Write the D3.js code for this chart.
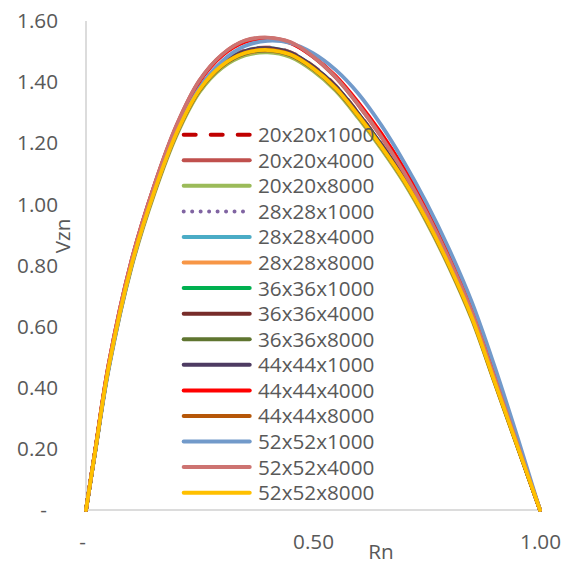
<!DOCTYPE html>
<html>
<head>
<meta charset="utf-8">
<script src="https://cdn.jsdelivr.net/npm/d3@7"></script>
<style>
  html, body { margin: 0; padding: 0; background: #ffffff; }
  svg { display: block; }
  text { font-family: "Open Sans", "Noto Sans", sans-serif; fill: #595959; }
</style>
</head>
<body>
<svg id="chart" width="570" height="565"></svg>
<script>
// Radial positions (Rn) shared by every series
const rn = [0, 0.02, 0.05, 0.10, 0.15, 0.20, 0.25, 0.30, 0.35, 0.40, 0.45,
            0.50, 0.55, 0.60, 0.65, 0.70, 0.75, 0.80, 0.85, 0.90, 0.95, 1.00];

// Normalised axial velocity Vzn for each mesh (cells x cells x steps)
const seriesNames = ["20x20x1000", "20x20x4000", "20x20x8000",
                     "28x28x1000", "28x28x4000", "28x28x8000",
                     "36x36x1000", "36x36x4000", "36x36x8000",
                     "44x44x1000", "44x44x4000", "44x44x8000",
                     "52x52x1000", "52x52x4000", "52x52x8000"];

const v20x20x1000 = [0, 0.191, 0.471, 0.805, 1.046, 1.241, 1.382, 1.463, 1.503, 1.513, 1.498, 1.453, 1.388, 1.298, 1.198, 1.088, 0.958, 0.808, 0.637, 0.426, 0.213, 0];
const v20x20x4000 = [0, 0.193, 0.478, 0.815, 1.060, 1.260, 1.405, 1.490, 1.535, 1.545, 1.530, 1.483, 1.415, 1.325, 1.222, 1.105, 0.972, 0.820, 0.647, 0.433, 0.216, 0];
const v20x20x8000 = [0, 0.188, 0.463, 0.792, 1.032, 1.227, 1.367, 1.447, 1.487, 1.497, 1.482, 1.437, 1.372, 1.282, 1.182, 1.072, 0.942, 0.793, 0.623, 0.416, 0.207, 0];
const v28x28x1000 = [0, 0.190, 0.469, 0.802, 1.043, 1.238, 1.378, 1.458, 1.498, 1.508, 1.493, 1.448, 1.383, 1.293, 1.193, 1.083, 0.953, 0.803, 0.633, 0.423, 0.211, 0];
const v28x28x4000 = [0, 0.191, 0.471, 0.805, 1.046, 1.241, 1.382, 1.462, 1.502, 1.512, 1.497, 1.452, 1.387, 1.297, 1.197, 1.087, 0.957, 0.806, 0.635, 0.425, 0.212, 0];
const v28x28x8000 = [0, 0.189, 0.466, 0.797, 1.037, 1.232, 1.372, 1.452, 1.492, 1.502, 1.487, 1.442, 1.377, 1.287, 1.187, 1.077, 0.947, 0.797, 0.627, 0.418, 0.208, 0];
const v36x36x1000 = [0, 0.190, 0.469, 0.802, 1.043, 1.238, 1.379, 1.459, 1.499, 1.509, 1.494, 1.449, 1.384, 1.294, 1.194, 1.084, 0.954, 0.804, 0.634, 0.424, 0.212, 0];
const v36x36x4000 = [0, 0.191, 0.470, 0.803, 1.044, 1.239, 1.380, 1.460, 1.501, 1.511, 1.496, 1.451, 1.386, 1.296, 1.196, 1.086, 0.956, 0.805, 0.635, 0.424, 0.212, 0];
const v36x36x8000 = [0, 0.189, 0.467, 0.798, 1.038, 1.233, 1.373, 1.453, 1.493, 1.503, 1.488, 1.443, 1.378, 1.288, 1.188, 1.078, 0.948, 0.798, 0.628, 0.419, 0.209, 0];
const v44x44x1000 = [0, 0.190, 0.469, 0.802, 1.043, 1.238, 1.379, 1.459, 1.500, 1.510, 1.495, 1.450, 1.385, 1.295, 1.195, 1.085, 0.955, 0.805, 0.634, 0.424, 0.212, 0];
const v44x44x4000 = [0, 0.193, 0.477, 0.814, 1.058, 1.257, 1.402, 1.487, 1.531, 1.542, 1.528, 1.484, 1.420, 1.333, 1.233, 1.118, 0.985, 0.833, 0.658, 0.442, 0.221, 0];
const v44x44x8000 = [0, 0.190, 0.468, 0.800, 1.040, 1.236, 1.376, 1.456, 1.496, 1.506, 1.491, 1.446, 1.381, 1.291, 1.191, 1.081, 0.951, 0.801, 0.631, 0.421, 0.211, 0];
const v52x52x1000 = [0, 0.186, 0.460, 0.796, 1.040, 1.236, 1.381, 1.469, 1.518, 1.535, 1.528, 1.495, 1.440, 1.362, 1.260, 1.140, 1.005, 0.853, 0.680, 0.470, 0.240, 0];
const v52x52x4000 = [0, 0.193, 0.478, 0.816, 1.061, 1.261, 1.406, 1.491, 1.536, 1.546, 1.531, 1.484, 1.416, 1.326, 1.223, 1.106, 0.973, 0.821, 0.648, 0.434, 0.217, 0];
const v52x52x8000 = [0, 0.190, 0.468, 0.800, 1.040, 1.235, 1.375, 1.455, 1.495, 1.505, 1.490, 1.445, 1.380, 1.290, 1.190, 1.080, 0.950, 0.800, 0.630, 0.420, 0.210, 0];

const seriesValues = [v20x20x1000, v20x20x4000, v20x20x8000,
                      v28x28x1000, v28x28x4000, v28x28x8000,
                      v36x36x1000, v36x36x4000, v36x36x8000,
                      v44x44x1000, v44x44x4000, v44x44x8000,
                      v52x52x1000, v52x52x4000, v52x52x8000];

// Axis ticks
const yTicks = [0, 0.2, 0.4, 0.6, 0.8, 1.0, 1.2, 1.4, 1.6];
const xTicks = [0, 0.5, 1.0];

// Line styles per series
const colors = ["#C00000", "#C0504D", "#9BBB59",
                "#8064A2", "#4BACC6", "#F79646",
                "#00B050", "#772C2A", "#5F7530",
                "#4D3B62", "#FF0000", "#B65708",
                "#729ACA", "#CD7371", "#FFC000"];
const dashes = [ "12,15", null, null,
                 "0.01,8.46", null, null,
                 null, null, null, null, null, null, null, null, null];

const series = seriesNames.map((name, i) => ({
  name,
  color: colors[i],
  dash: dashes[i],
  points: rn.map((r, j) => ({ x: r, y: seriesValues[i][j] }))
}));

const svg = d3.select("#chart");

const x = d3.scaleLinear().domain([0, 1]).range([86, 540]);
const y = d3.scaleLinear().domain([0, 1.6]).range([510, 21]);

const fmt = v => v === 0 ? "-" : d3.format(".2f")(v);

// Axis lines
svg.append("line")
  .attr("x1", x(0)).attr("x2", x(0))
  .attr("y1", y(1.6)).attr("y2", y(0))
  .attr("stroke", "#D0D0D0").attr("stroke-width", 1.5);
svg.append("line")
  .attr("x1", x(0)).attr("x2", x(1))
  .attr("y1", y(0)).attr("y2", y(0))
  .attr("stroke", "#D0D0D0").attr("stroke-width", 1.5);

// Y axis labels
const yAxis = svg.append("g")
  .attr("transform", `translate(${x(0)},0)`)
  .call(d3.axisLeft(y).tickValues(yTicks).tickFormat(fmt).tickSize(0).tickPadding(28));
yAxis.select(".domain").remove();
yAxis.selectAll("text")
  .attr("fill", "#595959")
  .style("font-size", "20.7px")
  .style("font-family", "'Open Sans', sans-serif")
  .attr("x", d => d === 0 ? -39 : -28);

// X axis labels
const xAxis = svg.append("g")
  .attr("transform", `translate(0,${y(0)})`)
  .call(d3.axisBottom(x).tickValues(xTicks).tickFormat(fmt).tickSize(0));
xAxis.select(".domain").remove();
xAxis.selectAll("text")
  .attr("fill", "#595959")
  .style("font-size", "20.7px")
  .style("font-family", "'Open Sans', sans-serif")
  .attr("y", 31.5)
  .attr("dy", "0.35em")
  .attr("x", d => d === 0 ? -4 : 0);

// Axis titles
svg.append("text")
  .attr("transform", "translate(70,236) rotate(-90)")
  .attr("text-anchor", "middle")
  .style("font-size", "20.7px")
  .text("Vzn");
svg.append("text")
  .attr("x", 381).attr("y", 559)
  .attr("text-anchor", "middle")
  .style("font-size", "20.7px")
  .text("Rn");

// Velocity profiles
const line = d3.line()
  .x(d => x(d.x))
  .y(d => y(d.y))
  .curve(d3.curveCatmullRom.alpha(0.5));

svg.append("g")
  .selectAll("path")
  .data(series)
  .join("path")
  .attr("d", d => line(d.points))
  .attr("fill", "none")
  .attr("stroke", d => d.color)
  .attr("stroke-width", 3.75)
  .attr("stroke-linecap", "round")
  .attr("stroke-linejoin", "round")
  .attr("stroke-dasharray", d => d.dash);

// Legend
const legend = svg.append("g").attr("transform", "translate(0,134.7)");
const rows = legend.selectAll("g")
  .data(series)
  .join("g")
  .attr("transform", (d, i) => `translate(0,${i * 25.57})`);
rows.append("line")
  .attr("x1", 183.7).attr("x2", 249.7)
  .attr("y1", 0).attr("y2", 0)
  .attr("stroke", d => d.color)
  .attr("stroke-width", 4)
  .attr("stroke-linecap", "round")
  .attr("stroke-dasharray", d => d.dash);
rows.append("text")
  .attr("x", 258)
  .attr("y", 0)
  .attr("dy", "0.36em")
  .style("font-size", "20.7px")
  .text(d => d.name);
</script>
</body>
</html>
